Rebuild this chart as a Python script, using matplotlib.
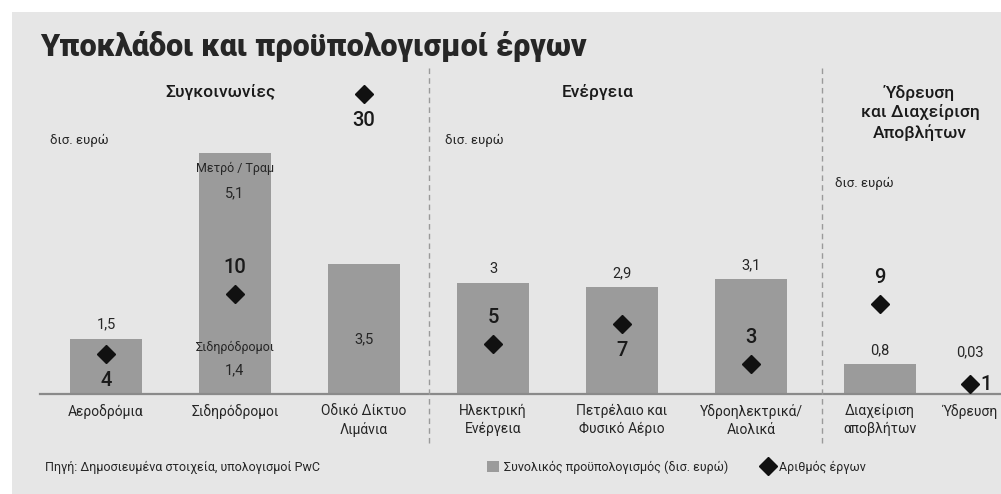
import matplotlib
matplotlib.use("Agg")
import matplotlib.pyplot as plt
from matplotlib.patches import Rectangle
from matplotlib.lines import Line2D
from matplotlib.transforms import blended_transform_factory

plt.rcParams['font.family'] = ['Roboto', 'DejaVu Sans']

# ---------------- data ----------------
categories = ["Αεροδρόμια", "Σιδηρόδρομοι", "Οδικό Δίκτυο\nΛιμάνια",
              "Ηλεκτρική\nΕνέργεια", "Πετρέλαιο και\nΦυσικό Αέριο",
              "Υδροηλεκτρικά/\nΑιολικά", "Διαχείριση\nαποβλήτων", "Ύδρευση"]
budget = [1.5, 1.4, 3.5, 3.0, 2.9, 3.1, 0.8, 0.03]   # δισ. ευρώ
metro_tram = [0, 5.1, 0, 0, 0, 0, 0, 0]             # stacked on Σιδηρόδρομοι
projects = [4, 10, 30, 5, 7, 3, 9, 1]
sections = ["Συγκοινωνίες", "Ενέργεια", "Ύδρευση\nκαι Διαχείριση\nΑποβλήτων"]
title = "Υποκλάδοι και προϋπολογισμοί έργων"
unit_label = "δισ. ευρώ"
source = "Πηγή: Δημοσιευμένα στοιχεία, υπολογισμοί PwC"
legend_labels = ["Συνολικός προϋπολογισμός (δισ. ευρώ)", "Αριθμός έργων"]

# ---------------- layout ----------------
W, H = 1001, 494
xpos = [0, 1, 2, 3, 4, 5, 6, 6.7]
label_side = ['below', 'above', 'below', 'above', 'below', 'above', 'above', 'right']
BG = '#e6e6e6'
BAR = '#9b9b9b'
TXT = '#262626'

fig = plt.figure(figsize=(W / 100, H / 100), dpi=100)
fig.patch.set_facecolor('white')
fig.patches.append(Rectangle((12 / W, 0), 1, 1 - 12 / H, transform=fig.transFigure,
                             facecolor=BG, edgecolor='none', zorder=-10))

ax = fig.add_axes([40 / W, 100 / H, (W - 40) / W, 334 / H])
ax.set_facecolor('none')
ax.set_xlim((40 - 106) / 129, (W - 106) / 129)
ax.set_ylim(0, 334 / 37)
for s in ['top', 'right', 'left']:
    ax.spines[s].set_visible(False)
ax.spines['bottom'].set_color('#8a8a8a')
ax.spines['bottom'].set_linewidth(1.6)
ax.set_yticks([])
ax.set_xticks(xpos, categories, fontsize=10, color=TXT, linespacing=1.35)
ax.tick_params(axis='x', length=0, pad=7)

bw = 0.56
ax.bar(xpos, budget, width=bw, color=BAR, zorder=2)
ax.bar(xpos, metro_tram, bottom=budget, width=bw, color=BAR, zorder=2)

def fmt(v):
    return f"{v:g}".replace('.', ',')

# bar value labels
for i, (x, v, m) in enumerate(zip(xpos, budget, metro_tram)):
    if m > 0:
        top = v + m
        ax.annotate("Μετρό / Τραμ", (x, top), xytext=(0, -11), textcoords='offset points',
                    ha='center', va='center', fontsize=9, color=TXT)
        ax.annotate(fmt(m), (x, top), xytext=(0, -29), textcoords='offset points',
                    ha='center', va='center', fontsize=10.5, color=TXT)
        ax.annotate(categories[i], (x, v), xytext=(0, -4), textcoords='offset points',
                    ha='center', va='center', fontsize=9, color=TXT)
        ax.annotate(fmt(v), (x, v), xytext=(0, -20), textcoords='offset points',
                    ha='center', va='center', fontsize=10.5, color=TXT)
    elif v >= 3.4:
        ax.annotate(fmt(v), (x, v / 2), xytext=(0, -7), textcoords='offset points',
                    ha='center', va='center', fontsize=10.5, color=TXT)
    elif v < 0.1:
        ax.annotate(fmt(v), (x, budget[i - 1]), xytext=(0, 9), textcoords='offset points',
                    ha='center', va='center', fontsize=10.5, color=TXT)
    else:
        ax.annotate(fmt(v), (x, v), xytext=(0, 10), textcoords='offset points',
                    ha='center', va='center', fontsize=10.5, color=TXT)

# project counts on secondary scale
ax2 = ax.twinx()
ax2.set_ylim(0, 33.4)
ax2.set_axis_off()
ax2.plot(xpos, projects, linestyle='none', marker='D', markersize=9,
         color='#111111', zorder=5)
for x, p, side in zip(xpos, projects, label_side):
    if side == 'above':
        off, ha = (0, 19), 'center'
    elif side == 'below':
        off, ha = (0, -19), 'center'
    else:
        off, ha = (7, 0), 'left'
    ax2.annotate(str(p), (x, p), xytext=off, textcoords='offset points',
                 ha=ha, va='center', fontsize=14.5, fontweight='medium', color='#1a1a1a')

# dividers
btf = blended_transform_factory(ax.transData, fig.transFigure)
for xd in [2.5, 5.55]:
    fig.add_artist(Line2D([xd, xd], [1 - 68 / H, 1 - 447 / H], transform=btf,
                          color='#9a9a9a', lw=1, linestyle=(0, (4, 3))))

# section headers
sec_x = [0.89, 3.81, 6.31]
sec_y = [92, 92, 113]
for name, sx, sy in zip(sections, sec_x, sec_y):
    fig.text(sx, 1 - sy / H, name, transform=btf, ha='center', va='center',
             fontsize=12.5, fontweight='medium', color='#1a1a1a', linespacing=1.3)

# unit labels
for ux, uy in [(50, 140), (445, 140), (835, 183)]:
    fig.text(ux / W, 1 - uy / H, unit_label, ha='left', va='center', fontsize=9.5, color=TXT)

# title
fig.text(40 / W, 1 - 46 / H, title, ha='left', va='center', fontsize=22,
         fontweight='black', color='#262626')

# source
fig.text(45 / W, 1 - 467 / H, source, ha='left', va='center', fontsize=9, color=TXT)

# legend
handles = [Rectangle((0, 0), 1, 1, facecolor=BAR, edgecolor='none'),
           Line2D([], [], linestyle='none', marker='D', markersize=9, color='#111111')]
fig.legend(handles, legend_labels, loc='center left', bbox_to_anchor=(476 / W, 1 - 467 / H),
           ncol=2, frameon=False, fontsize=9, handlelength=0.9, handleheight=0.9,
           handletextpad=0.4, columnspacing=2.8, labelcolor=TXT)

fig.savefig('out.png', dpi=100, facecolor=fig.get_facecolor())
